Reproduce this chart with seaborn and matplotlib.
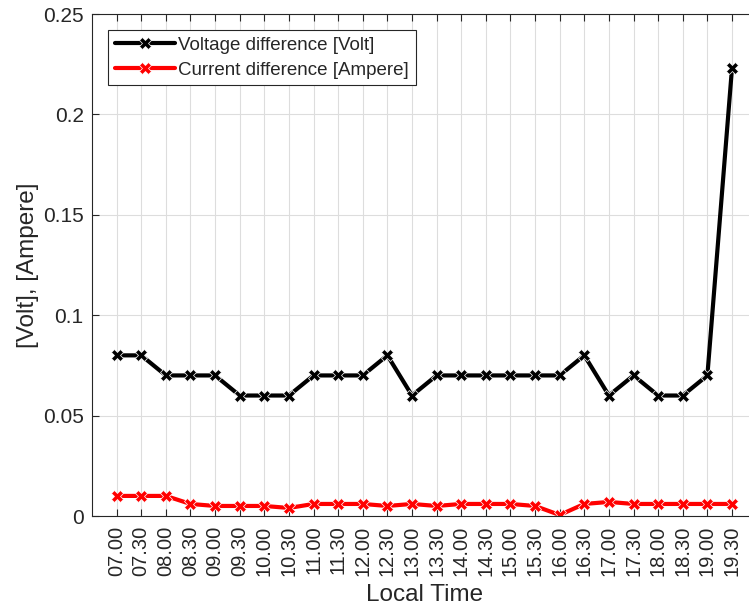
import matplotlib
matplotlib.use("Agg")
import matplotlib.pyplot as plt
import seaborn as sns
import pandas as pd

times = ["07.00", "07.30", "08.00", "08.30", "09.00", "09.30", "10.00", "10.30",
         "11.00", "11.30", "12.00", "12.30", "13.00", "13.30", "14.00", "14.30",
         "15.00", "15.30", "16.00", "16.30", "17.00", "17.30", "18.00", "18.30",
         "19.00", "19.30"]
voltage = [0.08, 0.08, 0.07, 0.07, 0.07, 0.06, 0.06, 0.06, 0.07, 0.07, 0.07, 0.08, 0.06,
           0.07, 0.07, 0.07, 0.07, 0.07, 0.07, 0.08, 0.06, 0.07, 0.06, 0.06, 0.07, 0.223]
current = [0.010, 0.010, 0.010, 0.006, 0.005, 0.005, 0.005, 0.004, 0.006, 0.006, 0.006,
           0.005, 0.006, 0.005, 0.006, 0.006, 0.006, 0.005, 0.0005, 0.006, 0.007, 0.006,
           0.006, 0.006, 0.006, 0.006]
yticks = [0, 0.05, 0.1, 0.15, 0.2, 0.25]
ytick_labels = ["0", "0.05", "0.1", "0.15", "0.2", "0.25"]

sns.set_style("white")
plt.rcParams['font.family'] = ['Liberation Sans', 'DejaVu Sans']

df = pd.DataFrame({"x": list(range(len(times))) * 2,
                   "value": voltage + current,
                   "series": ["Voltage difference [Volt]"] * len(times)
                             + ["Current difference [Ampere]"] * len(times)})

fig = plt.figure(figsize=(7.49, 6.08), dpi=100)
ax = fig.add_axes([92 / 749, 1 - 516 / 608, (756.6 - 92) / 749, (516 - 14) / 608])

sns.lineplot(data=df, x="x", y="value", hue="series",
             palette=["black", "red"], marker="X", markersize=9,
             markeredgewidth=0.5, linewidth=3, ax=ax)

ax.set_xlim(-1, len(times))
ax.set_ylim(0, 0.25)
ax.set_xticks(range(len(times)))
ax.set_xticklabels(times, rotation=90, fontsize=14.5, color="#262626")
ax.set_yticks(yticks)
ax.set_yticklabels(ytick_labels, fontsize=15, color="#262626")
ax.grid(True, color="#dddddd", linewidth=0.8)
ax.set_axisbelow(True)
ax.tick_params(direction="in", length=5, width=0.8, color="#262626",
               top=True, right=True, bottom=True, left=True)
ax.tick_params(axis="x", pad=7)
ax.tick_params(axis="y", pad=6)
for s in ax.spines.values():
    s.set_color("#262626")
    s.set_linewidth(0.8)
ax.set_xlabel("Local Time", fontsize=17.5, color="#262626", labelpad=6)
ax.set_ylabel("[Volt], [Ampere]", fontsize=17.5, color="#262626", labelpad=3)

leg = ax.legend(loc="upper left", bbox_to_anchor=(0.024, 0.968),
                borderaxespad=0, fontsize=13.5, fancybox=False,
                edgecolor="#262626", framealpha=1, handlelength=3.25,
                handletextpad=0.15, borderpad=0.35, labelspacing=0.42)
leg.get_frame().set_linewidth(0.8)

fig.savefig("out.png", dpi=100)
